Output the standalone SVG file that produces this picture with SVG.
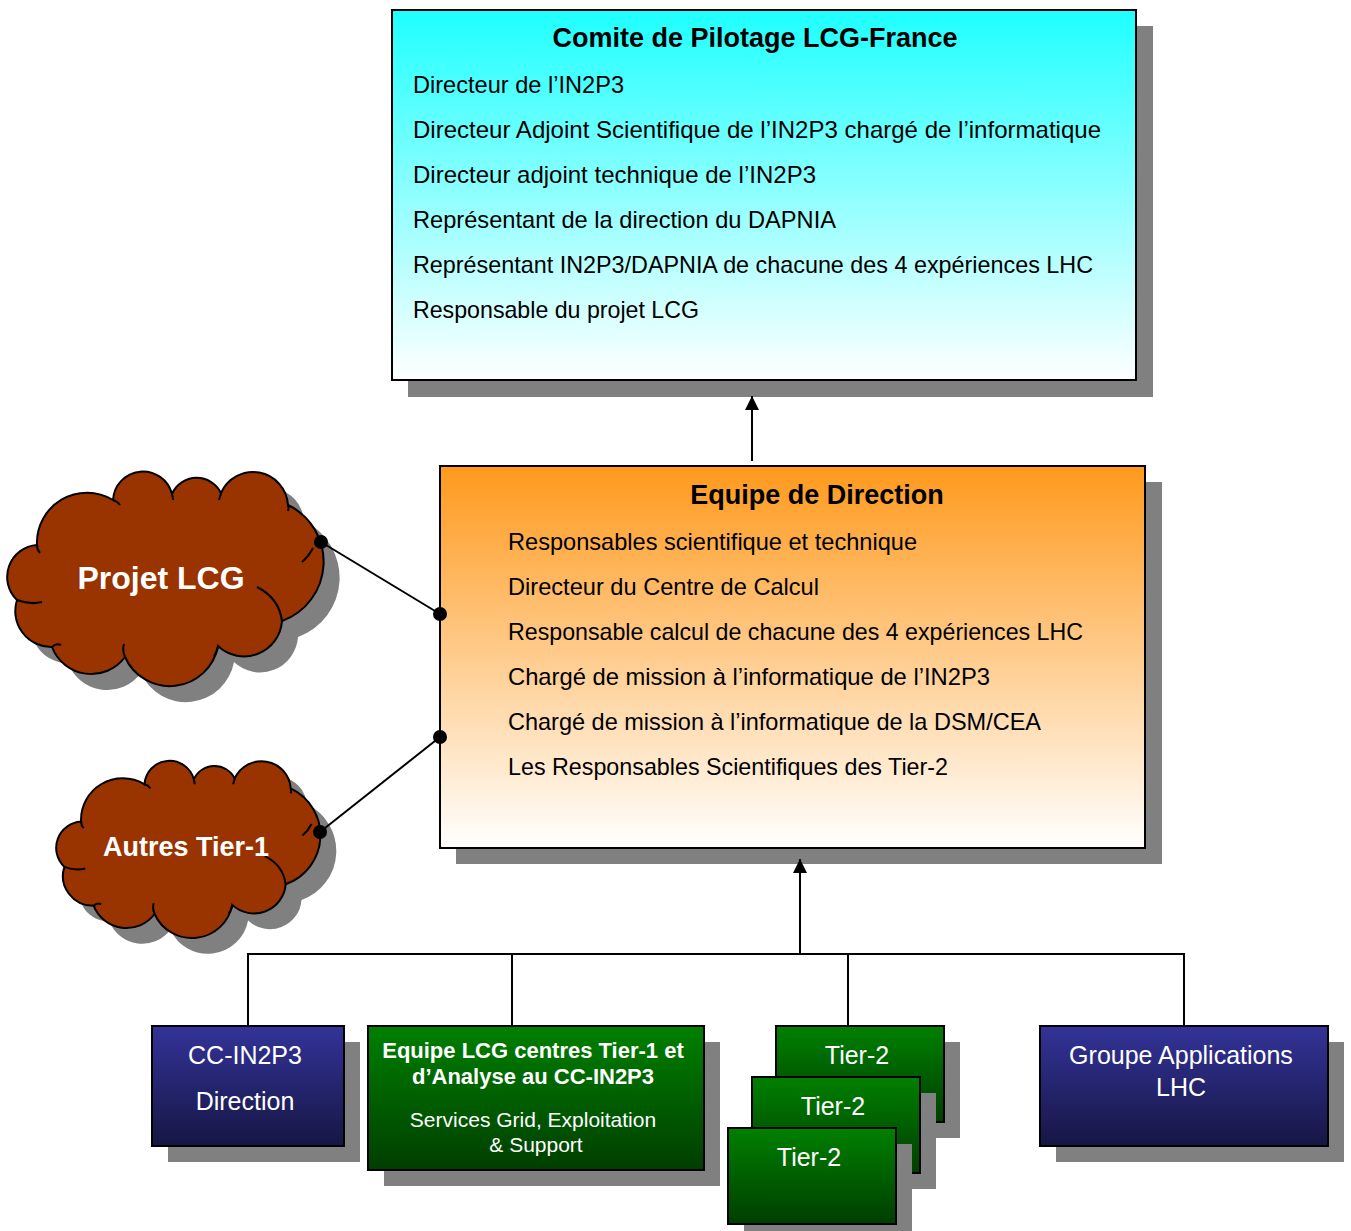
<svg xmlns="http://www.w3.org/2000/svg" width="1351" height="1231" viewBox="0 0 1351 1231">
<defs>
<linearGradient id="gCyan" x1="0" y1="0" x2="0" y2="1"><stop offset="0" stop-color="#1EFFFF"/><stop offset="1" stop-color="#FFFFFF"/></linearGradient>
<linearGradient id="gOrange" x1="0" y1="0" x2="0" y2="1"><stop offset="0" stop-color="#FF991C"/><stop offset="1" stop-color="#FFFFFF"/></linearGradient>
<linearGradient id="gBlue" x1="0" y1="0" x2="0" y2="1"><stop offset="0" stop-color="#333399"/><stop offset="1" stop-color="#161644"/></linearGradient>
<linearGradient id="gGreen" x1="0" y1="0" x2="0" y2="1"><stop offset="0" stop-color="#008000"/><stop offset="1" stop-color="#003E00"/></linearGradient>
<marker id="arr" markerUnits="userSpaceOnUse" markerWidth="14" markerHeight="16" refX="14" refY="7" orient="auto"><path d="M0,0 L14,7 L0,14 z" fill="#000"/></marker>
<path id="cloud" d="M37,545 A50,50 0 0 1 113,500 A30,30 0 0 1 172,494 A27,27 0 0 1 221,493 A35,35 0 0 1 288,505 A63,63 0 0 1 282,621 A38,38 0 0 1 218,646 A49,49 0 0 1 125,657 A42,42 0 0 1 52,647 A36,36 0 0 1 17,600 A32,32 0 0 1 37,545 Z"/>
<path id="crease" d="M257,587 Q279,598 282,621 M125,657 Q122,650 124,644 M52,647 Q56,643 61,645 M17,600 Q30,605 42,602 M37,545 Q37,550 40,553 M113,500 Q117,501 120,505 M172,494 Q173,497 173,500 M221,493 Q220,497 219,500 M288,505 Q289,508 288,511 M302,562 Q309,556 313,548 M218,646 Q218,650 214,656"/>
</defs>
<style>
.shadow{fill:#808080}
.box{stroke:#000;stroke-width:2}
.t{font-family:"Liberation Sans",Arial,sans-serif;font-size:24px;fill:#000}
.title{font-family:"Liberation Sans",Arial,sans-serif;font-size:27px;font-weight:bold;fill:#000;text-anchor:middle}
.w{font-family:"Liberation Sans",Arial,sans-serif;font-size:25px;fill:#fff;text-anchor:middle}
.wb{font-family:"Liberation Sans",Arial,sans-serif;font-size:22px;font-weight:bold;fill:#fff;text-anchor:middle}
.ws{font-family:"Liberation Sans",Arial,sans-serif;font-size:21px;fill:#fff;text-anchor:middle}
.cl{font-family:"Liberation Sans",Arial,sans-serif;font-weight:bold;fill:#fff;text-anchor:middle}
.cfill{fill:#993300;stroke:#000;stroke-width:2}
.cline{fill:none;stroke:#000;stroke-width:2}
.conn{fill:none;stroke:#000;stroke-width:2}
</style>

<g id="comite">
<rect class="shadow" x="408" y="26" width="745" height="371"/>
<rect class="box" x="392" y="10" width="744" height="370" fill="url(#gCyan)"/>
<text class="title" x="755" y="47">Comite de Pilotage LCG-France</text>
<text class="t" x="413" y="93" textLength="211" lengthAdjust="spacingAndGlyphs">Directeur de l’IN2P3</text>
<text class="t" x="413" y="138" textLength="688" lengthAdjust="spacingAndGlyphs">Directeur Adjoint Scientifique de l’IN2P3 chargé de l’informatique</text>
<text class="t" x="413" y="183" textLength="403" lengthAdjust="spacingAndGlyphs">Directeur adjoint technique de l’IN2P3</text>
<text class="t" x="413" y="228" textLength="423" lengthAdjust="spacingAndGlyphs">Représentant de la direction du DAPNIA</text>
<text class="t" x="413" y="273" textLength="680" lengthAdjust="spacingAndGlyphs">Représentant IN2P3/DAPNIA de chacune des 4 expériences LHC</text>
<text class="t" x="413" y="318" textLength="286" lengthAdjust="spacingAndGlyphs">Responsable du projet LCG</text>
</g>

<g id="equipe-direction">
<rect class="shadow" x="456" y="482" width="706" height="382"/>
<rect class="box" x="440" y="466" width="705" height="382" fill="url(#gOrange)"/>
<text class="title" x="817" y="504">Equipe de Direction</text>
<text class="t" x="508" y="550" textLength="409" lengthAdjust="spacingAndGlyphs">Responsables scientifique et technique</text>
<text class="t" x="508" y="595" textLength="311" lengthAdjust="spacingAndGlyphs">Directeur du Centre de Calcul</text>
<text class="t" x="508" y="640" textLength="575" lengthAdjust="spacingAndGlyphs">Responsable calcul de chacune des 4 expériences LHC</text>
<text class="t" x="508" y="685" textLength="482" lengthAdjust="spacingAndGlyphs">Chargé de mission à l’informatique de l’IN2P3</text>
<text class="t" x="508" y="730" textLength="533" lengthAdjust="spacingAndGlyphs">Chargé de mission à l’informatique de la DSM/CEA</text>
<text class="t" x="508" y="775" textLength="440" lengthAdjust="spacingAndGlyphs">Les Responsables Scientifiques des Tier-2</text>
</g>

<g id="projet-lcg">
<use href="#cloud" class="shadow" transform="translate(16,16)"/>
<use href="#cloud" class="cfill"/>
<use href="#crease" class="cline"/>
<text class="cl" x="161" y="589" font-size="32">Projet LCG</text>
</g>

<g id="autres-tier1">
<g transform="translate(50.2,371.3) scale(0.835,0.826)">
<use href="#cloud" class="shadow" transform="translate(19,19)"/>
<use href="#cloud" fill="#993300" stroke="#000" stroke-width="2.4"/>
<use href="#crease" fill="none" stroke="#000" stroke-width="2.4"/>
</g>
<text class="cl" x="186" y="856" font-size="27">Autres Tier-1</text>
</g>

<g id="cc-in2p3">
<rect class="shadow" x="168" y="1042" width="192" height="120"/>
<rect class="box" x="152" y="1026" width="192" height="120" fill="url(#gBlue)"/>
<text class="w" x="245" y="1064">CC-IN2P3</text>
<text class="w" x="245" y="1110" font-size="24">Direction</text>
</g>

<g id="equipe-lcg">
<rect class="shadow" x="384" y="1042" width="336" height="144"/>
<rect class="box" x="368" y="1026" width="336" height="144" fill="url(#gGreen)"/>
<text class="wb" x="533" y="1058">Equipe LCG centres Tier-1 et</text>
<text class="wb" x="533" y="1084">d’Analyse au CC-IN2P3</text>
<text class="ws" x="533" y="1127">Services Grid, Exploitation</text>
<text class="ws" x="536" y="1152">&amp; Support</text>
</g>

<g id="tier2-1">
<rect class="shadow" x="792" y="1042" width="168" height="96"/>
<rect class="box" x="776" y="1026" width="168" height="96" fill="url(#gGreen)"/>
<text class="w" x="857" y="1064">Tier-2</text>
</g>
<g id="tier2-2">
<rect class="shadow" x="768" y="1093" width="168" height="96"/>
<rect class="box" x="752" y="1077" width="168" height="96" fill="url(#gGreen)"/>
<text class="w" x="833" y="1115">Tier-2</text>
</g>
<g id="tier2-3">
<rect class="shadow" x="744" y="1144" width="168" height="96"/>
<rect class="box" x="728" y="1128" width="168" height="96" fill="url(#gGreen)"/>
<text class="w" x="809" y="1166">Tier-2</text>
</g>

<g id="groupe-applications">
<rect class="shadow" x="1056" y="1042" width="288" height="120"/>
<rect class="box" x="1040" y="1026" width="288" height="120" fill="url(#gBlue)"/>
<text class="w" x="1181" y="1064">Groupe Applications</text>
<text class="w" x="1181" y="1096">LHC</text>
</g>

<g id="connectors">
<line class="conn" x1="752" y1="461" x2="752" y2="396" marker-end="url(#arr)"/>
<line class="conn" x1="800" y1="954" x2="800" y2="859" marker-end="url(#arr)"/>
<path class="conn" d="M248,1026 V954 H1184 V1026 M512,954 V1026 M848,954 V1026"/>
<line class="conn" x1="321" y1="542" x2="440" y2="614"/>
<line class="conn" x1="320" y1="832" x2="440" y2="737"/>
<circle cx="321" cy="542" r="7" fill="#000"/>
<circle cx="440" cy="614" r="7" fill="#000"/>
<circle cx="320" cy="832" r="7" fill="#000"/>
<circle cx="440" cy="737" r="7" fill="#000"/>
</g>
</svg>
